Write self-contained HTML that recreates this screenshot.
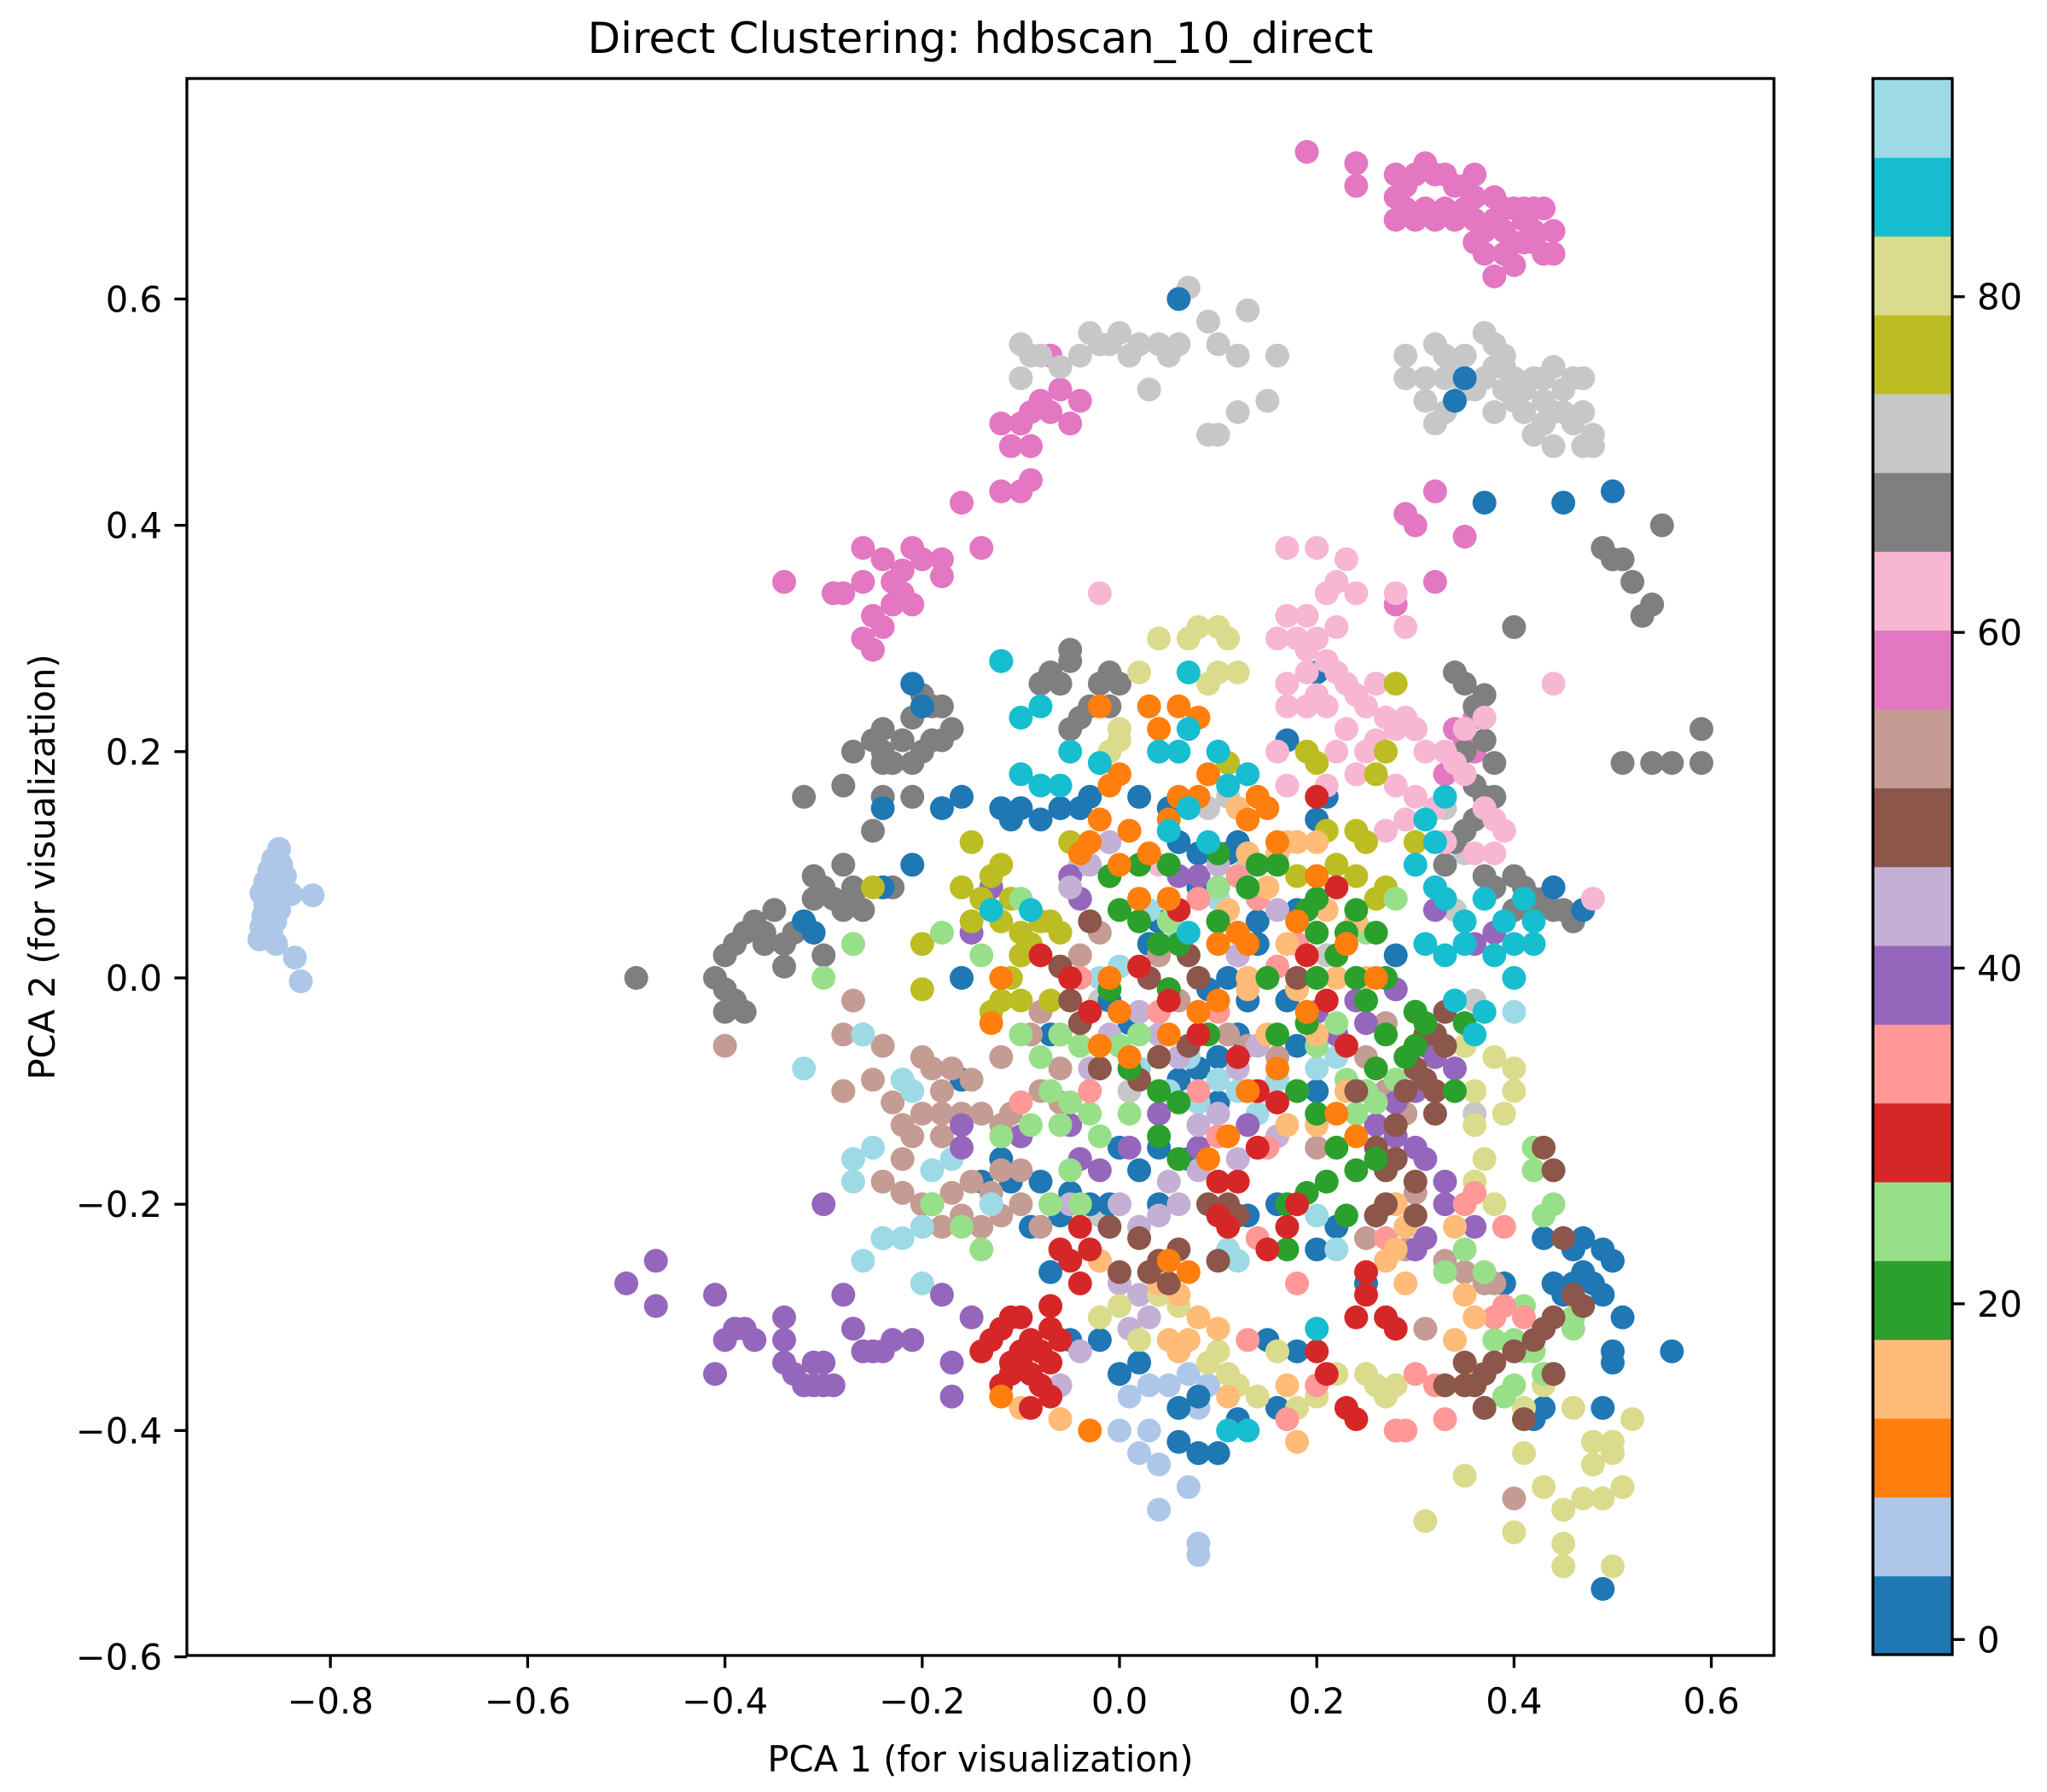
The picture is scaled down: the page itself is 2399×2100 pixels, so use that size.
<!DOCTYPE html>
<html>
<head>
<meta charset="utf-8">
<style>
html,body{margin:0;padding:0;background:#fff;}
svg{display:block;font-family:"DejaVu Sans","Liberation Sans",sans-serif;}
</style>
</head>
<body>
<svg id="chart" width="2399" height="2100" viewBox="0 0 2399 2100" xmlns="http://www.w3.org/2000/svg">
<rect x="0" y="0" width="2399" height="2100" fill="#fff"/>
<text x="1149" y="62" font-size="50" text-anchor="middle" fill="#000">Direct Clustering: hdbscan_10_direct</text>
<g id="points"></g>
<g id="axes"></g>
<g id="cbar"></g>
<text x="1149" y="2076" font-size="41.7" text-anchor="middle" fill="#000">PCA 1 (for visualization)</text>
<text x="0" y="0" font-size="41.7" text-anchor="middle" fill="#000" transform="translate(64,1016) rotate(-90)">PCA 2 (for visualization)</text>
</svg>
<script>
const palette = ["#1f77b4","#aec7e8","#ff7f0e","#ffbb78","#2ca02c","#98df8a","#d62728","#ff9896","#9467bd","#c5b0d5","#8c564b","#c49c94","#e377c2","#f7b6d2","#7f7f7f","#c7c7c7","#bcbd22","#dbdb8d","#17becf","#9edae5"];
const xTicks = [-0.8,-0.6,-0.4,-0.2,0.0,0.2,0.4,0.6];
const yTicks = [-0.6,-0.4,-0.2,0.0,0.2,0.4,0.6];
const cbarTicks = [0,20,40,60,80];
const cbarMin = -0.9, cbarMax = 93;

const clusterLightBlue = [[-0.872,0.034],[-0.87,0.045],[-0.868,0.055],[-0.866,0.065],[-0.87,0.075],[-0.866,0.085],[-0.862,0.095],[-0.858,0.105],[-0.852,0.114],[-0.86,0.04],[-0.856,0.05],[-0.852,0.06],[-0.856,0.07],[-0.85,0.08],[-0.846,0.09],[-0.85,0.1],[-0.862,0.06],[-0.86,0.08],[-0.848,0.074],[-0.84,0.074],[-0.818,0.073],[-0.836,0.018],[-0.83,-0.003],[-0.855,0.03],
[0.0,-0.4],[0.02,-0.42],[0.04,-0.43],[0.03,-0.4],[0.05,-0.36],[0.07,-0.35],[0.08,-0.38],[0.04,-0.47],[0.07,-0.45],[0.08,-0.5],[0.08,-0.51],[0.1,-0.42],[0.01,-0.37],[0.06,-0.33],[0.03,-0.36],[0.09,-0.36]];

const clusterPink = [[0.19,0.73],[0.24,0.72],[0.24,0.70],[0.28,0.71],[0.28,0.69],[0.29,0.7],[0.3,0.71],[0.31,0.72],[0.32,0.71],[0.33,0.71],[0.34,0.7],[0.35,0.7],[0.36,0.69],[0.36,0.71],[0.29,0.68],[0.28,0.67],[0.3,0.67],[0.31,0.68],[0.32,0.67],[0.33,0.68],[0.34,0.67],[0.35,0.68],[0.36,0.67],[0.37,0.66],[0.38,0.67],[0.39,0.68],[0.4,0.68],[0.41,0.68],[0.42,0.68],[0.43,0.68],[0.38,0.69],[0.39,0.66],[0.4,0.65],[0.41,0.65],[0.42,0.66],[0.43,0.64],[0.44,0.66],[0.44,0.64],[0.37,0.64],[0.38,0.62],[0.39,0.64],[0.4,0.63],[0.36,0.65],[0.41,0.67],[0.42,0.65],
[-0.07,0.55],[-0.06,0.52],[-0.08,0.51],[-0.09,0.5],[-0.07,0.5],[-0.04,0.51],[-0.05,0.49],[-0.1,0.49],[-0.12,0.49],[-0.09,0.47],[-0.11,0.47],[-0.1,0.43],[-0.09,0.44],[-0.12,0.43],[-0.16,0.42],[-0.14,0.38],[-0.18,0.37],[-0.2,0.37],[-0.21,0.38],[-0.22,0.36],[-0.24,0.37],[-0.26,0.38],[-0.18,0.355],[-0.23,0.35],[-0.26,0.35],[-0.28,0.34],[-0.29,0.34],[-0.25,0.32],[-0.23,0.33],[-0.21,0.33],[-0.24,0.31],[-0.26,0.3],[-0.25,0.29],[-0.34,0.35],[-0.22,0.34],
[0.29,0.41],[0.3,0.4],[0.32,0.43],[0.35,0.39],[0.32,0.35],[0.28,0.33],[0.36,0.23],[0.35,0.21],[0.36,0.2],[0.34,0.22],[0.33,0.18]];

const clusterLightGray = [[0.07,0.61],[0.09,0.58],[0.13,0.59],[0.1,0.56],[0.12,0.55],[0.16,0.55],[0.15,0.51],[0.12,0.5],[0.09,0.48],[0.1,0.48],[0.03,0.52],[0.0,0.57],[-0.01,0.56],[0.02,0.56],[0.04,0.56],[0.06,0.56],[-0.03,0.57],[-0.02,0.56],[-0.04,0.55],[-0.06,0.54],[-0.08,0.55],[-0.09,0.55],[-0.1,0.56],[-0.1,0.53],[0.01,0.55],[0.05,0.55],
[0.29,0.55],[0.29,0.53],[0.31,0.53],[0.32,0.56],[0.33,0.55],[0.33,0.53],[0.34,0.54],[0.35,0.55],[0.37,0.57],[0.38,0.56],[0.38,0.54],[0.39,0.55],[0.37,0.53],[0.36,0.52],[0.39,0.52],[0.4,0.53],[0.41,0.52],[0.42,0.53],[0.43,0.53],[0.44,0.54],[0.45,0.52],[0.46,0.53],[0.47,0.53],[0.41,0.5],[0.42,0.48],[0.43,0.49],[0.44,0.47],[0.45,0.5],[0.46,0.49],[0.47,0.5],[0.48,0.48],[0.47,0.47],[0.48,0.47],[0.4,0.51],[0.38,0.5],[0.32,0.49],[0.31,0.51],[0.33,0.5],[0.35,0.52],[0.43,0.51],[0.44,0.5],[0.39,0.54],
[0.05,0.13],[0.13,0.1],[0.11,0.16],[0.09,0.15],[0.34,0.06],[0.33,0.15],[0.35,0.11],[0.35,-0.06],[0.36,-0.12],[0.27,-0.15],[0.36,-0.02],[0.21,0.02],[0.0,-0.2],[-0.02,-0.21],[-0.07,-0.2],[-0.02,-0.02],[-0.04,0.1],[0.12,0.04],[0.01,-0.1]];

const clusterDarkGray = [[-0.49,0],[-0.41,0],[-0.4,-0.01],[-0.39,-0.02],[-0.4,-0.03],[-0.38,-0.03],[-0.4,0.02],[-0.39,0.03],[-0.38,0.04],[-0.37,0.05],[-0.36,0.04],[-0.35,0.06],[-0.34,0.01],[-0.33,0.04],[-0.32,0.05],[-0.31,0.07],[-0.3,0.08],[-0.29,0.07],[-0.28,0.06],[-0.27,0.07],[-0.28,0.1],[-0.27,0.08],[-0.26,0.06],[-0.31,0.09],[-0.3,0.02],[-0.32,0.16],[-0.28,0.17],[-0.27,0.2],[-0.25,0.21],[-0.24,0.2],[-0.23,0.19],[-0.24,0.22],[-0.22,0.21],[-0.21,0.19],[-0.2,0.2],[-0.21,0.23],[-0.2,0.25],[-0.19,0.24],[-0.19,0.21],[-0.18,0.21],[-0.17,0.22],[-0.18,0.24],[-0.21,0.16],[-0.24,0.16],[-0.24,0.19],[-0.23,0.08],[-0.25,0.13],[-0.36,0.03],[-0.34,0.03],
[-0.12,0.28],[-0.08,0.26],[-0.07,0.27],[-0.05,0.28],[-0.05,0.29],[-0.04,0.23],[-0.03,0.24],[-0.02,0.26],[-0.01,0.27],[0.0,0.26],[-0.01,0.24],[-0.05,0.22],[-0.06,0.26],
[0.55,0.4],[0.49,0.38],[0.5,0.37],[0.52,0.35],[0.53,0.32],[0.54,0.33],[0.51,0.37],[0.59,0.22],[0.59,0.19],[0.56,0.19],[0.54,0.19],[0.51,0.19],[0.4,0.31],[0.34,0.27],[0.35,0.26],[0.37,0.25],[0.36,0.24],[0.37,0.21],[0.35,0.2],[0.38,0.19],[0.36,0.17],[0.37,0.16],[0.38,0.16],[0.36,0.14],[0.35,0.13],[0.34,0.12],[0.33,0.1],[0.4,0.09],[0.41,0.08],[0.42,0.07],[0.43,0.07],[0.42,0.06],[0.44,0.06],[0.45,0.06],[0.46,0.05],[0.4,0.06],[0.38,0.08],[0.37,0.09]];

const clusterLightPink = [[0.17,0.38],[0.2,0.38],[0.23,0.37],[0.22,0.35],[0.21,0.34],[0.19,0.32],[0.17,0.32],[0.16,0.3],[0.18,0.3],[0.2,0.3],[0.21,0.28],[0.19,0.29],[0.24,0.34],[0.22,0.31],[0.28,0.34],[0.29,0.31],[0.19,0.27],[0.2,0.25],[0.21,0.24],[0.22,0.27],[0.23,0.26],[0.24,0.25],[0.25,0.24],[0.26,0.26],[0.23,0.22],[0.25,0.2],[0.26,0.21],[0.27,0.23],[0.28,0.22],[0.29,0.23],[0.3,0.22],[0.22,0.2],[0.24,0.18],[0.21,0.17],[0.28,0.17],[0.3,0.16],[0.32,0.15],[0.33,0.12],[0.31,0.2],[0.33,0.2],[0.35,0.18],[0.37,0.15],[0.38,0.14],[0.39,0.13],[0.38,0.11],[0.36,0.11],[0.29,0.14],[0.27,0.13],[0.19,0.24],[0.17,0.26],[0.17,0.24],[0.16,0.2],[0.37,0.23],[0.35,0.22],[0.34,0.19],[0.44,0.26],[0.48,0.07],[-0.02,0.34],[0.04,0.1],[0.17,0.17],[0.15,-0.1]];

const clusterOlive = [[-0.25,0.08],[-0.27,0.03],[-0.2,0.03],[-0.16,0.08],[-0.14,0.07],[-0.13,0.09],[-0.12,0.1],[-0.15,0.12],[-0.11,0.07],[-0.15,0.05],[-0.12,0.05],[-0.1,0.04],[-0.08,0.05],[-0.07,0.05],[-0.09,0.03],[-0.1,0.02],[-0.06,0.04],[-0.11,0.0],[-0.13,-0.03],[-0.12,-0.02],[-0.1,-0.02],[-0.07,-0.02],[-0.06,-0.05],[-0.05,0.12],[-0.2,-0.01],[0.2,0.19],[0.21,0.13],[0.24,0.13],[0.25,0.12],[0.22,0.1],[0.24,0.09],[0.27,0.08],[0.26,0.07],[0.3,0.12],[0.26,0.18],[0.27,0.2],[0.28,0.26],[0.19,0.2],[0.11,0.19],[0.18,0.09]];

const clusterLightOlive = [[0.04,0.3],[0.07,0.3],[0.08,0.31],[0.1,0.31],[0.11,0.3],[0.09,0.26],[0.1,0.27],[0.12,0.27],[0.02,0.27],[0.0,0.22],[0.0,0.21],[-0.01,0.2],[0.03,0.24],
[0.35,-0.44],[0.31,-0.48],[0.4,-0.49],[0.43,-0.45],[0.45,-0.47],[0.47,-0.46],[0.48,-0.43],[0.49,-0.46],[0.5,-0.42],[0.51,-0.45],[0.52,-0.39],[0.5,-0.41],[0.45,-0.5],[0.45,-0.52],[0.5,-0.52],[0.48,-0.41],[0.41,-0.42],[0.41,-0.38],[0.43,-0.36],[0.46,-0.38],[0.27,-0.37],[0.25,-0.35],[0.26,-0.36],[0.28,-0.36],[0.22,-0.35],[0.2,-0.37],[0.18,-0.38],[0.14,-0.37],[0.12,-0.36],[0.11,-0.35],[0.1,-0.33],[0.08,-0.3],[0.06,-0.29],[0.04,-0.28],[0.0,-0.29],[-0.02,-0.3],[0.02,-0.32],[0.09,-0.34],[0.16,-0.33],[0.4,-0.1],[0.38,-0.07],[0.4,-0.08],[0.39,-0.12],[0.36,-0.13],[0.37,-0.16],[0.38,-0.2],[0.36,-0.18],[0.35,-0.06],[0.36,-0.1]];

const clusterCyan = [[-0.1,0.23],[-0.08,0.24],[-0.12,0.28],[-0.1,0.18],[-0.06,0.17],[-0.08,0.17],[-0.05,0.2],[-0.02,0.19],[0.04,0.2],[0.06,0.2],[0.07,0.22],[0.1,0.2],[0.11,0.17],[0.13,0.18],[0.07,0.27],[0.07,0.15],[0.09,0.12],[0.05,0.13],[-0.09,0.06],[-0.13,0.06],[0.3,0.1],[0.32,0.08],[0.33,0.07],[0.35,0.05],[0.35,0.03],[0.37,0.07],[0.31,0.03],[0.33,0.02],[0.37,-0.03],[0.38,0.02],[0.4,0.0],[0.4,0.03],[0.42,0.03],[0.42,0.05],[0.39,0.05],[0.36,-0.05],[0.34,-0.02],[0.41,0.07],[0.31,0.14],[0.33,0.16],[0.32,0.12],[0.11,-0.4],[0.13,-0.4],[0.2,-0.31],[0.07,0.04]];

const clusterLightCyan = [[-0.32,-0.08],[-0.27,-0.16],[-0.27,-0.18],[-0.25,-0.15],[-0.26,-0.25],[-0.24,-0.23],[-0.22,-0.23],[-0.2,-0.27],[-0.21,-0.1],[-0.22,-0.09],[-0.26,-0.05],[-0.13,-0.2],[-0.17,-0.16],[-0.2,-0.22],[-0.19,-0.17],[0.02,-0.08],[0.05,-0.1],[0.08,-0.11],[0.1,-0.09],[0.12,-0.1],[0.14,-0.12],[0.16,-0.09],[0.18,-0.1],[0.2,-0.08],[0.22,-0.07],[0.07,-0.07],[0.03,0.06],[0.06,0.04],[0.1,0.07],[-0.02,0.0],[0.0,0.01],[0.2,-0.21],[0.22,-0.24],[0.12,-0.25],[0.11,-0.24],[0.4,-0.03]];

const clusterTan = [[-0.4,-0.06],[-0.27,-0.02],[-0.28,-0.05],[-0.26,-0.05],[-0.24,-0.06],[-0.28,-0.1],[-0.25,-0.09],[-0.22,-0.09],[-0.2,-0.07],[-0.19,-0.08],[-0.17,-0.08],[-0.18,-0.1],[-0.15,-0.09],[-0.16,-0.12],[-0.14,-0.12],[-0.12,-0.13],[-0.11,-0.12],[-0.18,-0.12],[-0.2,-0.12],[-0.22,-0.13],[-0.23,-0.11],[-0.21,-0.14],[-0.18,-0.14],[-0.22,-0.16],[-0.24,-0.18],[-0.22,-0.19],[-0.2,-0.2],[-0.17,-0.19],[-0.15,-0.18],[-0.13,-0.19],[-0.12,-0.17],[-0.1,-0.17],[-0.1,-0.2],[-0.12,-0.21],[-0.14,-0.22],[-0.16,-0.21],[-0.18,-0.22],[-0.08,-0.22],[-0.08,-0.1],[-0.06,-0.08],[-0.09,-0.05],[-0.08,-0.03],[-0.12,-0.07],[-0.06,-0.11],[0.27,-0.04],[0.25,-0.07],[0.27,-0.1],[0.29,-0.12],[0.3,-0.19],[0.28,-0.2],[0.29,-0.24],[0.33,-0.25],[0.35,-0.26],[0.37,-0.27],[0.38,-0.27],[0.31,-0.31],[0.25,-0.23],[0.2,-0.15],[0.16,-0.07],[0.13,-0.06],[0.11,-0.05],[0.06,-0.02],[0.04,0.02],[-0.02,0.04],[-0.04,0.02],[0.4,-0.46]];

const clusterLavender = [[-0.03,-0.08],[-0.01,-0.05],[0.02,-0.03],[0.04,-0.05],[0.06,-0.07],[0.08,-0.13],[0.1,-0.12],[0.12,-0.08],[0.14,-0.06],[0.0,-0.2],[0.02,-0.22],[-0.02,-0.25],[0.0,-0.27],[0.02,-0.28],[0.03,-0.3],[-0.04,-0.33],[-0.05,-0.2],[0.05,-0.18],[0.06,-0.2],[0.04,-0.21],[0.08,-0.17],[0.12,-0.16],[0.16,-0.14],[-0.03,0.1],[-0.01,0.12],[-0.05,0.08],[0.1,0.1],[0.12,0.02],[0.16,0.06],[-0.08,-0.33],[-0.06,-0.36],[0.01,-0.31]];

const clusterPurple = [[-0.5,-0.27],[-0.47,-0.25],[-0.47,-0.29],[-0.41,-0.28],[-0.41,-0.35],[-0.4,-0.32],[-0.39,-0.31],[-0.38,-0.31],[-0.37,-0.32],[-0.34,-0.3],[-0.34,-0.32],[-0.34,-0.34],[-0.33,-0.35],[-0.32,-0.36],[-0.31,-0.36],[-0.3,-0.34],[-0.3,-0.36],[-0.31,-0.34],[-0.29,-0.36],[-0.28,-0.28],[-0.27,-0.31],[-0.26,-0.33],[-0.25,-0.33],[-0.24,-0.33],[-0.23,-0.32],[-0.21,-0.32],[-0.3,-0.2],[-0.18,-0.28],[-0.17,-0.34],[-0.17,-0.37],[-0.15,-0.3],[-0.16,-0.13],[-0.16,-0.15],[-0.15,0.04],[-0.13,0.08],[-0.05,0.09],[-0.04,0.07],[0.06,0.09],[0.08,0.09],[0.18,-0.01],[0.2,-0.03],[0.22,-0.05],[0.24,-0.02],[0.25,-0.04],[0.28,-0.01],[0.3,-0.03],[0.3,-0.1],[0.28,-0.11],[0.26,-0.13],[0.28,-0.14],[0.3,-0.15],[0.31,-0.16],[0.33,-0.18],[0.33,-0.2],[0.36,-0.22],[0.31,-0.23],[0.3,-0.24],[0.31,-0.06],[0.32,-0.07],[0.34,-0.08],[0.32,0.06],[0.36,0.03],[0.38,0.04],[-0.05,-0.13],[-0.04,-0.16],[-0.02,-0.17],[0.01,-0.15],[0.04,-0.12],[0.08,-0.15],[-0.1,-0.14],[0.13,-0.13]];

const clusterRed = [[-0.14,-0.33],[-0.13,-0.32],[-0.12,-0.31],[-0.11,-0.3],[-0.1,-0.3],[-0.1,-0.33],[-0.09,-0.32],[-0.08,-0.33],[-0.07,-0.34],[-0.06,-0.32],[-0.11,-0.35],[-0.12,-0.36],[-0.09,-0.35],[-0.08,-0.36],[-0.07,-0.37],[-0.1,-0.34],[-0.09,-0.38],[-0.07,-0.31],[-0.04,-0.27],[-0.05,-0.25],[-0.04,-0.22],[-0.07,-0.29],[-0.06,-0.24],[-0.03,-0.24],[-0.11,-0.34],[-0.05,0.0],[-0.03,-0.03],[0.02,0.01],[0.05,-0.02],[0.08,-0.05],[0.12,-0.07],[0.14,-0.1],[0.16,-0.11],[0.14,-0.15],[0.12,-0.18],[0.11,-0.22],[0.1,-0.21],[0.18,-0.2],[0.15,-0.24],[0.17,-0.22],[0.19,0.02],[0.2,0.16],[0.22,0.08],[0.23,-0.06],[0.21,-0.02],[-0.08,0.02],[0.06,0.06],[0.25,-0.26],[0.25,-0.28],[0.27,-0.3],[0.28,-0.31],[0.24,-0.3],[0.2,-0.33],[0.21,-0.35],[0.23,-0.38],[0.24,-0.39],[0.1,-0.18]];

const clusterSalmon = [[0.13,-0.32],[0.17,-0.39],[0.2,-0.36],[0.28,-0.4],[0.29,-0.4],[0.33,-0.39],[0.3,-0.35],[0.32,-0.36],[0.38,-0.3],[0.39,-0.22],[0.39,-0.29],[0.41,-0.3],[0.35,-0.2],[0.36,-0.19],[0.27,-0.23],[0.18,-0.27],[0.14,-0.23],[0.15,-0.15],[0.1,-0.14],[0.08,-0.1],[0.04,-0.03],[0.1,-0.03],[0.16,0.01],[0.18,0.03],[0.14,0.07],[0.12,0.09],[0.08,0.07],[-0.04,0.0],[-0.1,-0.11],[-0.03,-0.1]];

const clusterGreen = [[0.17,-0.24],[0.17,-0.2],[0.19,-0.19],[0.21,-0.18],[0.24,-0.17],[0.23,-0.21],[0.26,-0.16],[0.22,-0.15],[0.2,-0.12],[0.18,-0.1],[0.16,-0.05],[0.19,-0.04],[0.2,0.0],[0.22,0.02],[0.24,0.0],[0.25,-0.02],[0.27,-0.05],[0.26,-0.08],[0.29,-0.07],[0.3,-0.06],[0.31,-0.04],[0.3,-0.03],[0.2,0.04],[0.23,0.04],[0.19,0.06],[0.14,0.1],[0.13,0.08],[0.16,0.1],[0.1,0.11],[0.05,0.1],[0.06,0.03],[0.04,0.03],[0.02,0.05],[0.0,0.06],[-0.01,0.09],[0.02,0.1],[0.1,0.05],[0.15,0.0],[0.2,0.07],[0.24,0.06],[0.26,0.04],[0.27,0.0],[0.09,-0.05],[-0.01,-0.01],[0.01,-0.08],[0.04,-0.1],[0.06,-0.11],[0.04,-0.14],[0.06,-0.16],[0.05,-0.01],[0.34,-0.1],[0.35,-0.04]];

const clusterLightGreen = [[-0.3,0.0],[-0.27,0.03],[-0.18,0.04],[-0.13,0.06],[-0.1,0.07],[-0.14,0.02],[-0.1,-0.05],[-0.08,-0.07],[-0.06,-0.05],[-0.04,-0.06],[-0.02,-0.06],[0.0,-0.03],[0.02,-0.05],[-0.05,-0.11],[-0.07,-0.1],[-0.09,-0.13],[-0.06,-0.13],[-0.03,-0.12],[-0.02,-0.14],[0.01,-0.12],[-0.12,-0.14],[-0.16,-0.22],[-0.19,-0.2],[-0.14,-0.24],[-0.07,-0.2],[-0.05,-0.17],[-0.04,-0.2],[0.0,-0.06],[0.05,0.05],[0.1,0.08],[0.2,-0.06],[0.22,-0.04],[0.23,-0.09],[0.25,-0.1],[0.24,-0.12],[0.26,-0.11],[0.28,-0.09],[0.28,0.07],[0.25,0.04],[0.35,-0.24],[0.37,-0.26],[0.41,-0.29],[0.4,-0.32],[0.42,-0.33],[0.43,-0.35],[0.4,-0.36],[0.39,-0.37],[0.41,-0.33],[0.42,-0.17],[0.42,-0.15],[0.44,-0.2],[0.43,-0.21],[0.46,-0.3],[0.46,-0.31],[0.38,-0.32],[0.33,-0.26]];

const clusterOrange = [[-0.02,0.24],[0.03,0.24],[0.06,0.24],[0.08,0.23],[0.04,0.22],[0.09,0.18],[0.08,0.16],[0.06,0.16],[0.05,0.14],[0.0,0.18],[-0.01,0.17],[0.01,0.13],[0.03,0.11],[-0.02,0.14],[-0.03,0.12],[-0.04,0.11],[0.0,0.1],[0.02,0.07],[0.05,0.07],[0.1,0.03],[0.13,0.03],[0.14,0.16],[0.13,0.14],[0.15,0.15],[-0.01,0.0],[0.0,-0.03],[-0.02,-0.06],[0.01,-0.07],[0.05,-0.05],[0.08,-0.03],[0.1,-0.02],[0.12,0.04],[0.16,0.12],[0.2,0.09],[0.23,0.03],[0.18,0.05],[0.19,-0.03],[0.16,-0.08],[0.13,-0.1],[0.11,-0.14],[0.09,-0.16],[-0.12,0.0],[-0.13,-0.04],[-0.12,-0.37],[-0.03,-0.4],[0.22,-0.12],[0.24,-0.14],[0.26,0.0],[0.05,-0.25],[0.07,-0.26]];

const clusterPeach = [[0.17,0.12],[0.18,0.12],[0.2,0.12],[0.16,0.11],[0.13,0.11],[0.12,0.15],[0.15,0.08],[0.17,0.03],[0.19,0.02],[0.21,0.06],[0.24,0.05],[0.22,0.0],[0.18,-0.01],[0.15,-0.05],[0.13,-0.01],[0.11,0.06],[0.2,-0.05],[0.23,-0.1],[0.2,-0.13],[0.17,-0.13],[0.28,-0.2],[0.29,-0.22],[0.27,-0.25],[0.29,-0.27],[0.28,-0.24],[0.34,-0.22],[0.35,-0.28],[0.36,-0.3],[0.34,-0.32],[0.36,-0.35],[0.06,-0.28],[0.08,-0.3],[0.07,-0.32],[0.05,-0.32],[0.06,-0.33],[0.1,-0.31],[0.04,-0.27],[-0.02,-0.25],[-0.1,-0.38],[-0.06,-0.39],[0.11,-0.37],[0.18,-0.41],[0.17,-0.36],[0.13,0.0],[0.25,0.0]];

const clusterBrown = [[0.03,0.0],[0.05,-0.01],[0.07,0.02],[0.08,0.0],[0.04,-0.07],[0.02,-0.09],[-0.04,-0.04],[-0.05,-0.02],[-0.06,0.01],[0.1,-0.18],[0.09,-0.2],[0.11,-0.2],[0.06,-0.24],[0.04,-0.25],[0.02,-0.23],[-0.01,-0.22],[0.0,-0.26],[0.12,-0.21],[0.1,-0.25],[0.24,-0.1],[0.26,-0.15],[0.27,-0.17],[0.27,-0.2],[0.3,-0.18],[0.3,-0.21],[0.31,-0.09],[0.32,-0.1],[0.3,-0.08],[0.31,-0.05],[0.32,-0.05],[0.33,-0.06],[0.32,-0.12],[0.28,-0.13],[0.29,-0.1],[0.33,-0.03],[0.35,-0.34],[0.35,-0.36],[0.36,-0.36],[0.37,-0.35],[0.37,-0.38],[0.38,-0.34],[0.4,-0.33],[0.42,-0.32],[0.43,-0.31],[0.44,-0.35],[0.44,-0.3],[0.41,-0.39],[0.44,-0.17],[0.43,-0.15],[0.45,-0.23],[0.46,-0.28],[0.47,-0.29],[0.33,-0.36],[0.28,-0.16],[0.26,-0.21],[0.13,-0.1],[-0.03,0.05],[-0.02,-0.08],[0.07,-0.06],[0.05,-0.27],[0.03,-0.26],[0.18,0.0]];

const clusterBlue = [[0.06,0.6],[0.35,0.53],[0.34,0.51],[0.37,0.42],[0.45,0.42],[0.5,0.43],[0.2,0.27],[-0.21,0.26],[-0.2,0.24],[-0.24,0.15],[-0.21,0.1],[-0.31,0.04],[-0.24,0.08],[-0.16,0.16],
[0.49,-0.54],[0.49,-0.38],[0.5,-0.34],[0.5,-0.33],[0.51,-0.3],[0.5,-0.25],[0.49,-0.24],[0.47,-0.23],[0.46,-0.24],[0.45,-0.23],[0.47,-0.26],[0.48,-0.27],[0.46,-0.27],[0.44,-0.27],[0.45,-0.28],[0.42,-0.39],[0.43,-0.38],[0.39,-0.27],[0.49,-0.28],[0.56,-0.33],[0.43,-0.23],[0.47,0.06],[0.44,0.08],[0.18,-0.33],[0.16,-0.38],[0.15,-0.32],[0.12,-0.39],[0.1,-0.42],[0.08,-0.42],[0.06,-0.41],[0.08,-0.37],[0.0,-0.35],[0.02,-0.34],[-0.02,-0.32],[-0.05,-0.32],[-0.07,-0.26],[-0.09,-0.22],[-0.06,-0.21],[-0.05,-0.19],[-0.03,-0.2],[-0.01,-0.2],[-0.08,-0.18],[-0.11,-0.18],[-0.14,-0.18],[-0.12,-0.16],[-0.16,-0.09],[-0.16,0.0],[-0.19,-0.2],[-0.24,-0.23],[-0.18,0.15],[-0.12,0.15],[-0.11,0.14],[-0.1,0.15],[-0.06,0.15],[-0.04,0.15],[-0.03,0.16],[0.02,0.16],[0.05,0.15],[0.03,0.03],[0.05,0.05],[0.08,0.11],[-0.1,0.02],[-0.07,-0.05],[-0.01,-0.02],[0.01,-0.04],[0.0,-0.15],[0.02,-0.17],[0.04,-0.15],[0.04,-0.2],[0.07,-0.16],[0.08,-0.08],[0.1,-0.11],[0.1,-0.07],[0.12,-0.05],[0.12,0.02],[0.14,0.03],[0.13,-0.02],[0.15,0.0],[0.17,-0.02],[0.18,-0.06],[0.2,-0.1],[0.17,0.21],[0.21,0.16],[0.18,0.06],[0.2,0.14],[0.22,-0.22],[0.25,-0.27],[0.2,-0.24],[0.16,-0.2],[0.13,-0.21],[0.24,0.0],[0.28,0.02],[0.3,0.22],[0.12,0.12],[0.11,0.11],[0.09,-0.01],[0.11,0.0],[0.06,-0.09],[-0.08,0.14],[0.04,0.05],[0.06,0.12],[0.08,0.08],[0.32,0.08],[0.28,-0.01],[-0.32,0.05],[0.14,0.05],[0.1,0.05],[0.06,-0.38]];

const seriesList = [
  {name:"cluster-light-blue", pts:clusterLightBlue, c:1},
  {name:"cluster-pink", pts:clusterPink, c:12},
  {name:"cluster-light-gray", pts:clusterLightGray, c:15},
  {name:"cluster-dark-gray", pts:clusterDarkGray, c:14},
  {name:"cluster-blue", pts:clusterBlue, c:0},
  {name:"cluster-light-pink", pts:clusterLightPink, c:13},
  {name:"cluster-tan", pts:clusterTan, c:11},
  {name:"cluster-light-cyan", pts:clusterLightCyan, c:19},
  {name:"cluster-purple", pts:clusterPurple, c:8},
  {name:"cluster-lavender", pts:clusterLavender, c:9},
  {name:"cluster-light-olive", pts:clusterLightOlive, c:17},
  {name:"cluster-olive", pts:clusterOlive, c:16},
  {name:"cluster-light-green", pts:clusterLightGreen, c:5},
  {name:"cluster-salmon", pts:clusterSalmon, c:7},
  {name:"cluster-peach", pts:clusterPeach, c:3},
  {name:"cluster-brown", pts:clusterBrown, c:10},
  {name:"cluster-green", pts:clusterGreen, c:4},
  {name:"cluster-red", pts:clusterRed, c:6},
  {name:"cluster-orange", pts:clusterOrange, c:2},
  {name:"cluster-cyan", pts:clusterCyan, c:18}
];

const NS = "http://www.w3.org/2000/svg";
const AX = {l:219, r:2079, t:92, b:1940};
function xScale(v){ return 1312 + v*1156; }
function yScale(v){ return 1146 - v*1326; }
const CB = {l:2195, r:2288, t:92, b:1939};
function cbScale(v){ return CB.b - (v - cbarMin)/(cbarMax - cbarMin)*(CB.b - CB.t); }

function mk(tag, attrs, parent){
  const e = document.createElementNS(NS, tag);
  for (const k in attrs) e.setAttribute(k, attrs[k]);
  parent.appendChild(e);
  return e;
}

const gP = document.getElementById('points');
const clip = mk('clipPath', {id:'axclip'}, gP);
mk('rect', {x:AX.l, y:AX.t, width:AX.r-AX.l, height:AX.b-AX.t}, clip);
gP.setAttribute('clip-path', 'url(#axclip)');
seriesList.forEach(s => {
  const g = mk('g', {fill:palette[s.c]}, gP);
  
  
  s.pts.forEach(p => {
    const c = mk('circle', {cx:xScale(p[0]).toFixed(1), cy:yScale(p[1]).toFixed(1), r:14}, g);
    
    
  });
});

const gA = document.getElementById('axes');
const frame = mk('rect', {x:AX.l, y:AX.t, width:AX.r-AX.l, height:AX.b-AX.t, fill:'none', stroke:'#000', 'stroke-width':3.3}, gA);


xTicks.forEach(v => {
  const x = xScale(v);
  const t = mk('line', {x1:x, x2:x, y1:AX.b, y2:AX.b+14.6, stroke:'#000', 'stroke-width':3.3}, gA);
  
  
  const lb = mk('text', {x:x, y:2008, 'font-size':41.7, 'text-anchor':'middle', fill:'#000'}, gA);
  lb.textContent = (v < 0 ? '\u2212' : '') + Math.abs(v).toFixed(1);
  
  
});
yTicks.forEach(v => {
  const y = yScale(v);
  const t = mk('line', {x1:AX.l-14.6, x2:AX.l, y1:y, y2:y, stroke:'#000', 'stroke-width':3.3}, gA);
  
  
  const lb = mk('text', {x:190, y:y+15, 'font-size':41.7, 'text-anchor':'end', fill:'#000'}, gA);
  lb.textContent = (v < 0 ? '\u2212' : '') + Math.abs(v).toFixed(1);
  
  
});

const gC = document.getElementById('cbar');
const nb = palette.length;
const bh = (CB.b - CB.t)/nb;
for (let i = 0; i < nb; i++){
  const r = mk('rect', {x:CB.l, y:(CB.b - (i+1)*bh).toFixed(2), width:CB.r-CB.l, height:(bh+0.6).toFixed(2), fill:palette[i]}, gC);
  
  
}
const cf = mk('rect', {x:CB.l, y:CB.t, width:CB.r-CB.l, height:CB.b-CB.t, fill:'none', stroke:'#000', 'stroke-width':3.3}, gC);


cbarTicks.forEach(v => {
  const y = cbScale(v);
  const t = mk('line', {x1:CB.r, x2:CB.r+14.6, y1:y, y2:y, stroke:'#000', 'stroke-width':3.3}, gC);
  
  
  const lb = mk('text', {x:CB.r+29, y:y+15, 'font-size':41.7, fill:'#000'}, gC);
  lb.textContent = String(v);
  
  
});
</script>
</body>
</html>
